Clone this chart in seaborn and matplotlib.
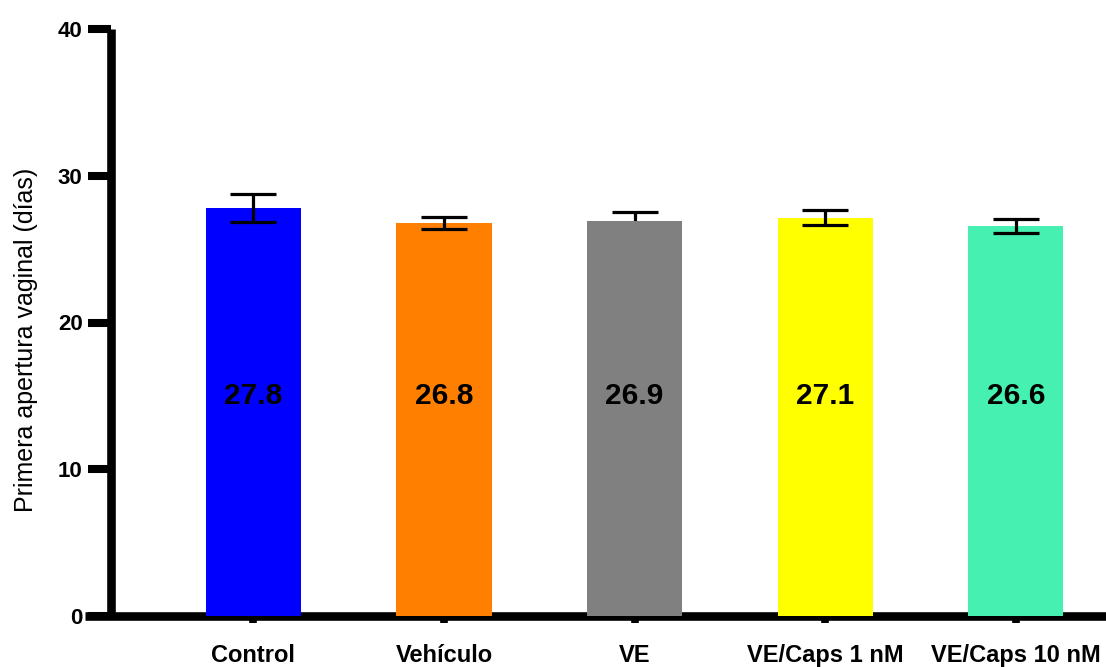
import matplotlib
matplotlib.use("Agg")
import matplotlib.pyplot as plt
import seaborn as sns
import pandas as pd

# Treatment groups and mean day of first vaginal opening
categories = ["Control", "Vehículo", "VE", "VE/Caps 1 nM", "VE/Caps 10 nM"]
means = [27.8, 26.8, 26.9, 27.1, 26.6]
sem_upper = [0.95, 0.4, 0.6, 0.55, 0.45]
sem_lower = [0.95, 0.45, 0.6, 0.43, 0.47]
colors = ["#0000FF", "#FF8000", "#808080", "#FFFF00", "#45F0B0"]
y_ticks = [0, 10, 20, 30, 40]
y_label = "Primera apertura vaginal (días)"

sns.set_theme(style="white")
plt.rcParams["font.family"] = ["Liberation Sans", "DejaVu Sans"]

df = pd.DataFrame({"grupo": categories, "dias": means})

W, H = 1106, 667
fig = plt.figure(figsize=(W / 100, H / 100), dpi=100)
ax_left, ax_right = 85, 1106
y_top, y_bottom = 29, 616
ax = fig.add_axes([ax_left / W, (H - y_bottom) / H,
                   (ax_right - ax_left) / W, (y_bottom - y_top) / H])

sns.barplot(data=df, x="grupo", y="dias", hue="grupo", palette=colors,
            legend=False, width=0.5, errorbar=None, saturation=1,
            linewidth=0, ax=ax)

# Category spacing in pixels, used to place the y spine in data units
step = 190.6
first_center = 253.4
xmin = (ax_left - first_center) / step
xmax = (ax_right - first_center) / step
ax.set_xlim(xmin, xmax)
ax.set_ylim(0, 40)

# Error bars (SEM); the VE lower whisker sits behind its bar
for i, (m, lo, hi) in enumerate(zip(means, sem_lower, sem_upper)):
    z = 1 if categories[i] == "VE" else 5
    ax.errorbar(i, m, yerr=[[lo], [hi]], fmt="none", ecolor="black",
                elinewidth=2.3, capsize=16.5, capthick=2.3, zorder=z)
    ax.text(i, 15, f"{m:.1f}", ha="center", va="center",
            fontsize=21.5, fontweight="bold", color="black", zorder=6)
for p in ax.patches:
    p.set_zorder(3)

spine_x = (111 - first_center) / step
ax.spines["left"].set_position(("data", spine_x))
for s in ["top", "right"]:
    ax.spines[s].set_visible(False)
for s in ["left", "bottom"]:
    ax.spines[s].set_linewidth(6.2)
    ax.spines[s].set_color("black")
    ax.spines[s].set_capstyle("butt")
ax.spines["left"].set_bounds(0, 40)

ax.set_yticks(y_ticks)
ax.set_yticklabels([str(t) for t in y_ticks])
ax.tick_params(axis="y", direction="out", length=16.5, width=5.8,
               color="black", labelsize=16, pad=4, left=True)
ax.tick_params(axis="x", direction="out", length=5, width=5.5,
               color="black", labelsize=17, pad=15, bottom=True)
for lab in ax.get_yticklabels() + ax.get_xticklabels():
    lab.set_fontweight("bold")
    lab.set_color("black")

ax.set_xlabel("")
ax.set_ylabel(y_label, fontsize=18, color="black", labelpad=0)
ax.yaxis.set_label_coords((38 - ax_left) / (ax_right - ax_left), (616 - 340) / (y_bottom - y_top))

fig.savefig("out.png", dpi=100)
